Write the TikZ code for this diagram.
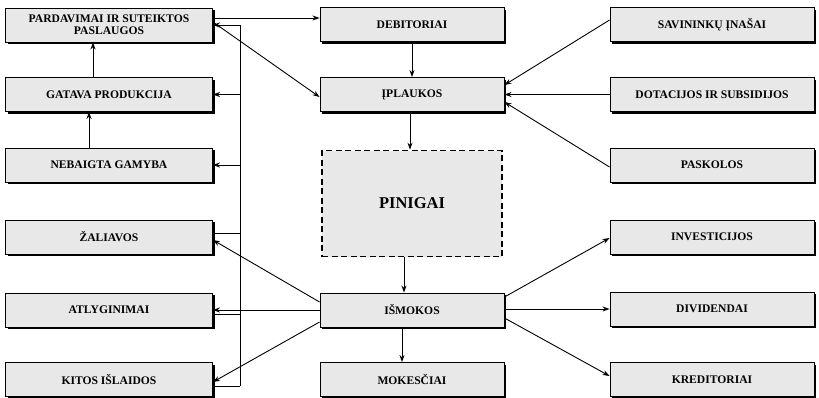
\documentclass[tikz,border=0pt]{standalone}
\usepackage{fontspec}
\setmainfont{Liberation Serif}
\usetikzlibrary{arrows.meta,shadows}
\tikzset{
  box/.style={draw=black, line width=0.9pt, fill=gray!18, inner sep=0pt,
    minimum height=34pt, align=center,
    font=\bfseries\fontsize{11.6}{11.8}\selectfont,
    drop shadow={shadow xshift=2pt, shadow yshift=-2pt, fill=black, opacity=1}},
  lbox/.style={box, minimum width=207pt},
  mbox/.style={box, minimum width=184pt},
  rbox/.style={box, minimum width=204pt},
  money/.style={draw=black, line width=1.7pt, dash pattern=on 6pt off 3.5pt,
    fill=gray!18, minimum width=180pt, minimum height=106pt, inner sep=0pt,
    font=\bfseries\fontsize{16.5}{16.5}\selectfont},
  arr/.style={line width=0.9pt, -{Stealth[length=7pt,width=5pt]}},
  ln/.style={line width=0.9pt}
}
\begin{document}
\begin{tikzpicture}[x=1pt,y=-1pt]
\useasboundingbox (0,0) rectangle (819,397);
% left column
\node[lbox] (pard) at (109,25) {PARDAVIMAI IR SUTEIKTOS\\PASLAUGOS};
\node[lbox] (gat) at (109,94.5) {GATAVA PRODUKCIJA};
\node[lbox] (neb) at (109,165) {NEBAIGTA GAMYBA};
\node[lbox] (zal) at (109,237) {ŽALIAVOS};
\node[lbox] (atl) at (109,310) {ATLYGINIMAI};
\node[lbox] (kit) at (109,379.5) {KITOS IŠLAIDOS};
% middle column
\node[mbox] (deb) at (412,24.5) {DEBITORIAI};
\node[mbox] (ipl) at (412,94.5) {ĮPLAUKOS};
\node[money] (pin) at (412,203.5) {PINIGAI};
\node[mbox] (ism) at (412,310) {IŠMOKOS};
\node[mbox] (mok) at (412,379.5) {MOKESČIAI};
% right column
\node[rbox] (sav) at (712,24.5) {SAVININKŲ ĮNAŠAI};
\node[rbox] (dot) at (712,94.5) {DOTACIJOS IR SUBSIDIJOS};
\node[rbox] (pas) at (712,165) {PASKOLOS};
\node[rbox] (inv) at (712,237) {INVESTICIJOS};
\node[rbox] (div) at (712,309) {DIVIDENDAI};
\node[rbox] (kre) at (712,379.5) {KREDITORIAI};
% left collector line
\coordinate (vtop) at (240,25);
\coordinate (vbot) at ([yshift=-6.5pt]kit.east -| vtop);
\draw[ln] (vtop) -- (vbot);
\draw[arr] (vtop) -- (pard.east);
\draw[arr] (gat.east -| vtop) -- (gat.east);
\draw[arr] (neb.east -| vtop) -- (neb.east);
\draw[ln] ([yshift=4pt]zal.east) -- ([yshift=4pt]zal.east -| vtop);
\draw[ln] ([yshift=-4pt]atl.east) -- ([yshift=-4pt]atl.east -| vtop);
\draw[ln] ([yshift=-6.5pt]kit.east) -- (vbot);
% left column vertical flows
\draw[arr] ([xshift=-16pt]gat.north) -- ([xshift=-16pt]pard.south);
\draw[arr] ([xshift=-20pt]neb.north) -- ([xshift=-20pt]gat.south);
% from sales
\draw[arr] ([yshift=7pt]pard.east) -- ([yshift=7pt]pard.east -| deb.west);
\draw[arr] ([yshift=3pt]pard.east) -- ([yshift=-2.5pt]ipl.west);
% middle vertical flows
\draw[arr] (deb.south) -- (ipl.north);
\draw[arr] ([xshift=-2pt]ipl.south) -- ([xshift=-2pt]pin.north);
\draw[arr] ([xshift=-8pt]pin.south) -- ([xshift=-8pt]ism.north);
\draw[arr] ([xshift=-10pt]ism.south) -- ([xshift=-10pt]mok.north);
% inflows
\draw[arr] ([yshift=4.5pt]sav.west) -- ([yshift=9.5pt]ipl.east);
\draw[arr] (dot.west) -- (ipl.east);
\draw[arr] ([yshift=-2pt]pas.west) -- ([yshift=-7.5pt]ipl.east);
% outflows left
\draw[arr] ([yshift=8pt]ism.west) -- ([yshift=-3pt]zal.east);
\draw[arr] (ism.west) -- (ism.west -| atl.east);
\draw[arr] ([yshift=-12pt]ism.west) -- ([yshift=-2.5pt]kit.east);
% outflows right
\draw[arr] ([yshift=13pt]ism.east) -- ([yshift=-1pt]inv.west);
\draw[arr] ([yshift=1pt]ism.east) -- ([yshift=0pt]div.west);
\draw[arr] ([yshift=-8pt]ism.east) -- ([yshift=3.5pt]kre.west);
\end{tikzpicture}
\end{document}
